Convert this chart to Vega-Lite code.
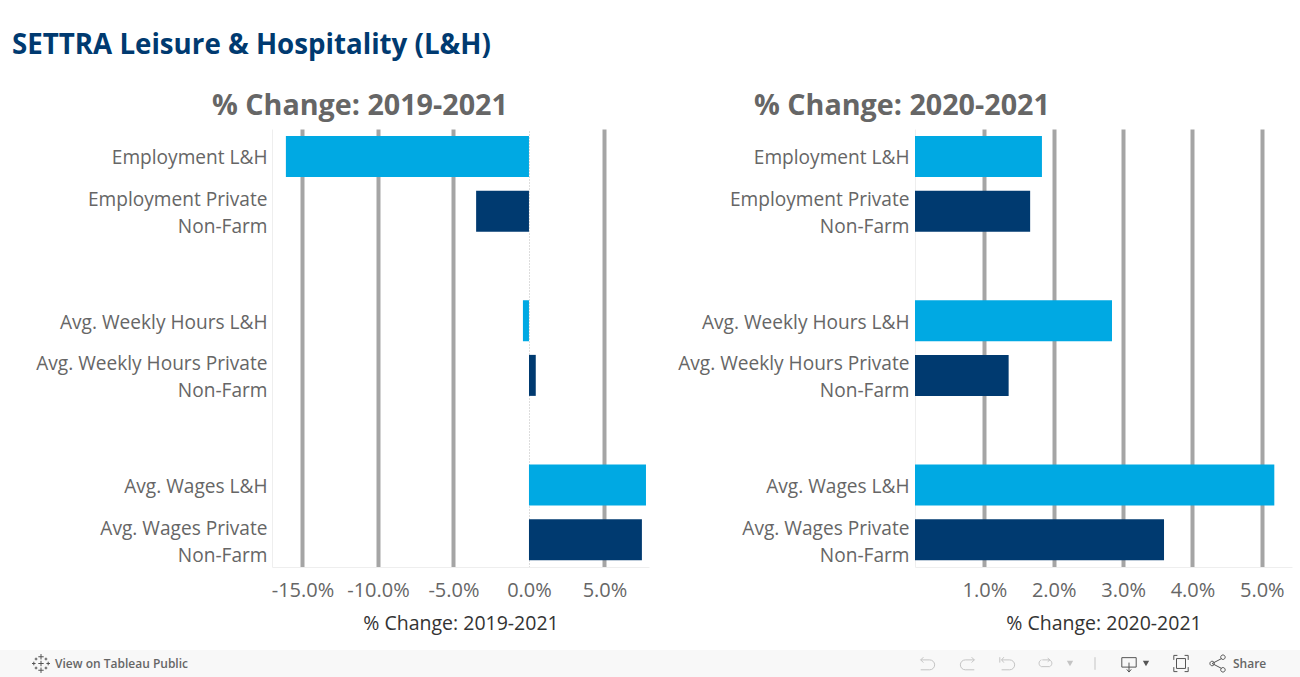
{"$schema":"https://vega.github.io/schema/vega-lite/v6.json","padding":{"left":0,"top":31,"right":0,"bottom":0},"background":"white","spacing":17,"align":"none","resolve":{"scale":{"color":"independent"}},
"title":{"text":"SETTRA Leisure & Hospitality (L&H)","anchor":"start","font":"Open Sans","fontSize":27.7,"fontWeight":"bold","color":"#003a70","offset":33,"dx":12},
"config":{"view":{"stroke":null},"font":"Open Sans"},
"datasets":{"rows":[
{"metric":"Employment L&H","sector":"L&H","period":"2019-2021","value":-16.1},
{"metric":"Employment Private Non-Farm","sector":"Private","period":"2019-2021","value":-3.5},
{"metric":"Avg. Weekly Hours L&H","sector":"L&H","period":"2019-2021","value":-0.4},
{"metric":"Avg. Weekly Hours Private Non-Farm","sector":"Private","period":"2019-2021","value":0.45},
{"metric":"Avg. Wages L&H","sector":"L&H","period":"2019-2021","value":7.75},
{"metric":"Avg. Wages Private Non-Farm","sector":"Private","period":"2019-2021","value":7.48},
{"metric":"Employment L&H","sector":"L&H","period":"2020-2021","value":1.83},
{"metric":"Employment Private Non-Farm","sector":"Private","period":"2020-2021","value":1.66},
{"metric":"Avg. Weekly Hours L&H","sector":"L&H","period":"2020-2021","value":2.84},
{"metric":"Avg. Weekly Hours Private Non-Farm","sector":"Private","period":"2020-2021","value":1.35},
{"metric":"Avg. Wages L&H","sector":"L&H","period":"2020-2021","value":5.18},
{"metric":"Avg. Wages Private Non-Farm","sector":"Private","period":"2020-2021","value":3.59}
]},
"vconcat":[
{"hconcat":[
{"width":377,"height":438,
"title":{"text":"% Change: 2019-2021","anchor":"start","frame":"group","dx":-60,"font":"Open Sans","fontSize":28.7,"fontWeight":"bold","color":"#666666","offset":8},
"data":{"name":"rows"},"transform":[{"filter":"datum.period=='2019-2021'"}],
"mark":{"type":"bar","size":41},
"encoding":{
"y":{"field":"metric","type":"nominal","title":null,"sort":null,
"scale":{"domain":["Employment L&H","Employment Private Non-Farm"," ","Avg. Weekly Hours L&H","Avg. Weekly Hours Private Non-Farm","  ","Avg. Wages L&H","Avg. Wages Private Non-Farm"],"paddingInner":0.25,"paddingOuter":0.125},
"axis":{"ticks":false,"domainColor":"#eeeeee","labelFontSize":19.1,"labelColor":"#666666","labelPadding":5,"labelLimit":300,"labelLineHeight":27,"minExtent":272,"maxExtent":272,"labelOffset":{"condition":{"test":"indexof(datum.value,'Non-Farm')>=0","value":-11},"value":2},"labelExpr":"split(replace(datum.label,' Non-Farm','|Non-Farm'),'|')"}},
"x":{"field":"value","type":"quantitative","title":"% Change: 2019-2021",
"scale":{"domain":[-17.02,7.95],"nice":false,"zero":false},
"axis":{"values":[-15,-10,-5,0,5],"format":".1f","labelExpr":"replace(datum.label,'−','-')+'%'","ticks":false,"domainColor":"#eeeeee","labelFontSize":20,"labelColor":"#666666","labelPadding":13,"titleFontSize":19.5,"titleFontWeight":"normal","titleColor":"#333333","titlePadding":14,"grid":true,
"gridColor":{"condition":{"test":"datum.value===0","value":"#bbbbbb"},"value":"#a5a5a5"},
"gridWidth":{"condition":{"test":"datum.value===0","value":1},"value":4},
"gridDash":{"condition":{"test":"datum.value===0","value":[1,2]},"value":[]}}},
"color":{"field":"sector","type":"nominal","legend":null,"scale":{"domain":["L&H","Private"],"range":["#00a9e3","#003a70"]}}
}},
{"width":377,"height":438,
"title":{"text":"% Change: 2020-2021","anchor":"start","frame":"group","dx":-161,"font":"Open Sans","fontSize":28.7,"fontWeight":"bold","color":"#666666","offset":8},
"data":{"name":"rows"},"transform":[{"filter":"datum.period=='2020-2021'"}],
"mark":{"type":"bar","size":41},
"encoding":{
"y":{"field":"metric","type":"nominal","title":null,"sort":null,
"scale":{"domain":["Employment L&H","Employment Private Non-Farm"," ","Avg. Weekly Hours L&H","Avg. Weekly Hours Private Non-Farm","  ","Avg. Wages L&H","Avg. Wages Private Non-Farm"],"paddingInner":0.25,"paddingOuter":0.125},
"axis":{"ticks":false,"domainColor":"#eeeeee","labelFontSize":19.1,"labelColor":"#666666","labelPadding":6,"labelLimit":300,"labelLineHeight":27,"minExtent":266,"maxExtent":266,"labelOffset":{"condition":{"test":"indexof(datum.value,'Non-Farm')>=0","value":-11},"value":2},"labelExpr":"split(replace(datum.label,' Non-Farm','|Non-Farm'),'|')"}},
"x":{"field":"value","type":"quantitative","title":"% Change: 2020-2021",
"scale":{"domain":[0,5.435],"nice":false,"zero":false},
"axis":{"values":[1,2,3,4,5],"format":".1f","labelExpr":"datum.label+'%'","ticks":false,"domainColor":"#eeeeee","labelFontSize":20,"labelColor":"#666666","labelPadding":13,"titleFontSize":19.5,"titleFontWeight":"normal","titleColor":"#333333","titlePadding":14,"grid":true,"gridColor":"#a5a5a5","gridWidth":4}},
"color":{"field":"sector","type":"nominal","legend":null,"scale":{"domain":["L&H","Private"],"range":["#00a9e3","#003a70"]}}
}}
],"spacing":0},
{"width":1028,"height":27,
"data":{"values":[
{"pos":0,"end":1300,"kind":"band"},
{"pos":41,"icon":"logo","state":"dark","kind":"stroke"},
{"pos":927,"icon":"undo","state":"off","kind":"stroke"},
{"pos":968,"icon":"redo","state":"off","kind":"stroke"},
{"pos":1007,"icon":"revert","state":"off","kind":"stroke"},
{"pos":1045,"icon":"refresh","state":"off","kind":"stroke"},
{"pos":1095,"icon":"sep","state":"off","kind":"stroke"},
{"pos":1129,"icon":"download","state":"dark","kind":"stroke"},
{"pos":1181,"icon":"full","state":"dark","kind":"stroke"},
{"pos":1218,"icon":"share","state":"dark","kind":"stroke"},
{"pos":1070,"state":"off","kind":"tri"},
{"pos":1146,"state":"dark","kind":"tri"},
{"pos":55,"label":"View on Tableau Public","kind":"text"},
{"pos":1233,"label":"Share","kind":"text"}
]},
"encoding":{"x":{"field":"pos","type":"quantitative","scale":{"domain":[272,1300],"nice":false,"zero":false},"axis":null}},
"layer":[
{"transform":[{"filter":"datum.kind=='band'"}],"mark":{"type":"rect","color":"#f8f8f8"},"encoding":{"x2":{"field":"end"}}},
{"transform":[{"filter":"datum.kind=='stroke'"}],"mark":{"type":"point","filled":false,"strokeWidth":1,"opacity":1},
"encoding":{"size":{"value":324},
"shape":{"field":"icon","type":"nominal","legend":null,"scale":{"domain":["logo","undo","redo","revert","refresh","sep","download","full","share"],"range":[
"M-0.3,-0.75H0.3M0,-1.05V-0.45M-0.3,0.75H0.3M0,1.05V0.45M-0.3,0H0.3M0,-0.3V0.3M-1,0H-0.6M-0.8,-0.2V0.2M0.6,0H1M0.8,-0.2V0.2M-0.7,-0.5H-0.4M-0.55,-0.65V-0.35M0.4,-0.5H0.7M0.55,-0.65V-0.35M-0.7,0.5H-0.4M-0.55,0.35V0.65M0.4,0.5H0.7M0.55,0.35V0.65",
"M-0.7,-0.4H0.3A0.5,0.5 0 0 1 0.3,0.7H-0.7M-0.4,-0.7L-0.7,-0.4L-0.4,-0.1",
"M0.7,-0.4H-0.3A0.5,0.5 0 0 0 -0.3,0.7H0.7M0.4,-0.7L0.7,-0.4L0.4,-0.1",
"M-0.6,-0.4H0.3A0.5,0.5 0 0 1 0.3,0.7H-0.6M-0.35,-0.7L-0.6,-0.4L-0.35,-0.1M-0.8,-0.7V-0.1",
"M-0.3,-0.4H0.5A0.4,0.4 0 0 1 0.5,0.35H-0.4A0.4,0.4 0 0 1 -0.4,-0.4M0.3,-0.6L0.55,-0.4L0.3,-0.2",
"M0,-0.7V0.7",
"M-0.8,-0.65H0.8V0.4H-0.8ZM0,-0.1V0.95M-0.25,0.65L0,0.95L0.25,0.65",
"M-0.8,-0.4V-0.9H-0.4M0.4,-0.9H0.8V-0.4M0.8,0.4V0.9H0.4M-0.4,0.9H-0.8V0.4M-0.5,-0.55H0.5V0.55H-0.5Z",
"M-0.65,0L0.4,-0.55M-0.65,0L0.4,0.55M-0.4,0A0.25,0.25 0 1 1 -0.9,0A0.25,0.25 0 1 1 -0.4,0M0.8,-0.7A0.25,0.25 0 1 1 0.3,-0.7A0.25,0.25 0 1 1 0.8,-0.7M0.8,0.7A0.25,0.25 0 1 1 0.3,0.7A0.25,0.25 0 1 1 0.8,0.7"
]}},
"color":{"field":"state","type":"nominal","legend":null,"scale":{"domain":["off","dark"],"range":["#c4c4c4","#555555"]}}}},
{"transform":[{"filter":"datum.kind=='tri'"}],"mark":{"type":"point","shape":"triangle-down","filled":true,"size":40,"opacity":1},
"encoding":{"color":{"field":"state","type":"nominal","legend":null,"scale":{"domain":["off","dark"],"range":["#c4c4c4","#555555"]}}}},
{"transform":[{"filter":"datum.kind=='text'"}],"mark":{"type":"text","align":"left","baseline":"middle","font":"Open Sans","fontSize":12,"fontWeight":600,"color":"#666666"},
"encoding":{"text":{"field":"label","type":"nominal"}}}
]}
]}
